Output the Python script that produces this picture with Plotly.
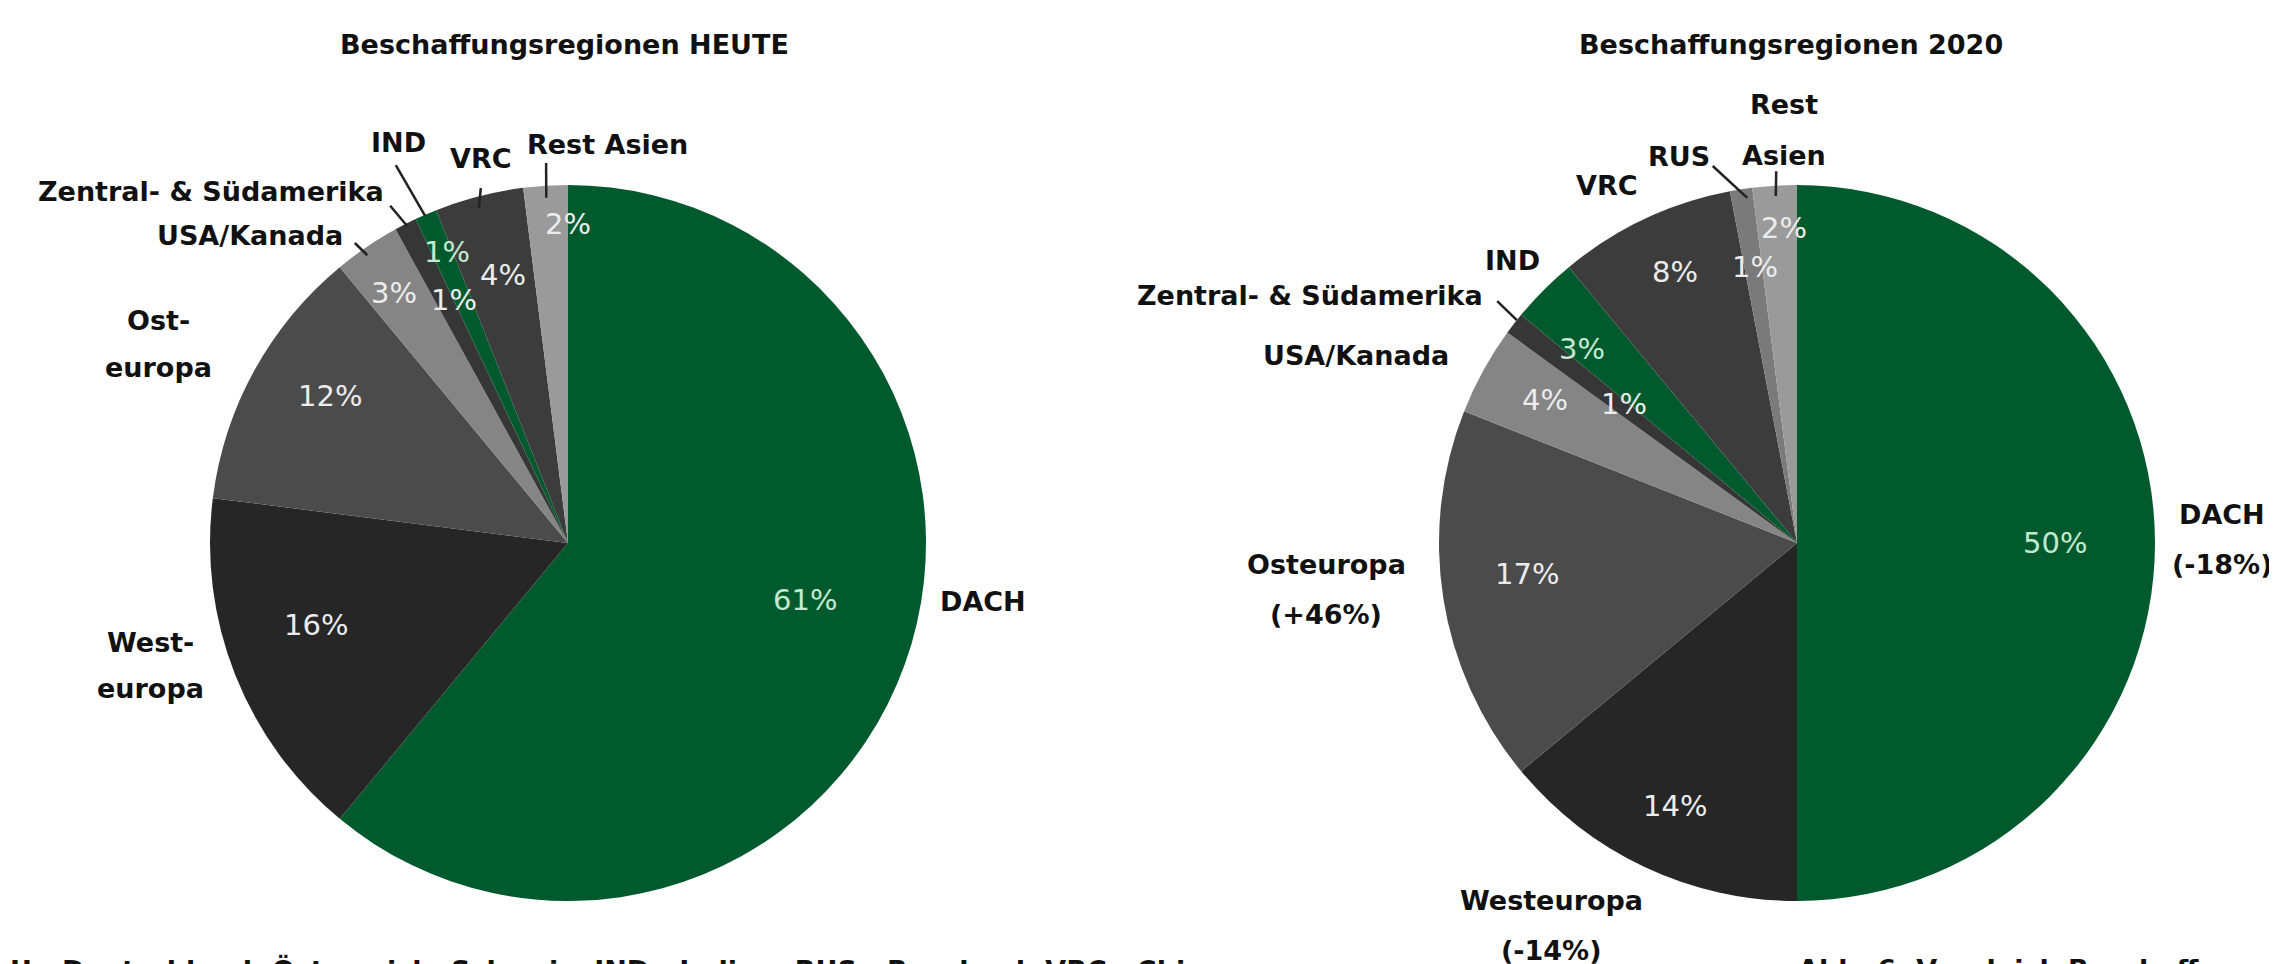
import math
import plotly.graph_objects as go

W, H = 2277, 964

# ---------------- data ----------------
titles = ["Beschaffungsregionen HEUTE", "Beschaffungsregionen 2020"]

labels_heute = ["DACH", "Westeuropa", "Osteuropa", "USA/Kanada",
                "Zentral- & Südamerika", "IND", "VRC", "Rest Asien"]
values_heute = [61, 16, 12, 3, 1, 1, 4, 2]

labels_2020 = ["DACH", "Westeuropa", "Osteuropa", "USA/Kanada",
               "Zentral- & Südamerika", "IND", "VRC", "RUS", "Rest Asien"]
values_2020 = [50, 14, 17, 4, 1, 3, 8, 1, 2]

changes_2020 = ["-18%", "-14%", "+46%", "", "", "", "", "", ""]

footnote = "U - Deutschland, Österreich, Schweiz; IND - Indien; RUS - Russland; VRC - China"
caption = "Abb. 6: Vergleich Beschaffungsregionen heute und 2020"

# ---------------- styles ----------------
COLORS = {
    "DACH": "#005a2d",
    "Westeuropa": "#262626",
    "Osteuropa": "#4b4b4b",
    "USA/Kanada": "#858585",
    "Zentral- & Südamerika": "#363636",
    "IND": "#005a2d",
    "VRC": "#3c3c3c",
    "RUS": "#7a7a7a",
    "Rest Asien": "#9a9a9a",
}
GREEN_TXT = "#c3ead0"
GREY_TXT = "#ececec"
BOLD = "DejaVu Sans, Verdana, sans-serif"
REG = "DejaVu Sans, Verdana, sans-serif"
LBL_SIZE = 27
PCT_SIZE = 29

R = 358
centers = [(560, 535), (1789, 535)]
title_x = [556, 1783]
TITLE_Y = 37

# percent label placement: angle offset from slice middle, radius factor
pct_off_heute = [(-6.3, .68), (3.5, .74), (2.9, .78), (-0.6, .85), (1.8, .75), (0.9, .88), (0.8, .77), (3.6, .89)]
pct_off_2020 = [(0, .72), (-0.3, .81), (2.5, .76), (0.8, .81), (0.9, .62), (-3, .81), (0.9, .83), (0.3, .78), (1.2, .88)]

# outside label placement: pixel offsets from pie centre, xanchor
out_heute = {
    "DACH": (370, 58, "left"),
    "Westeuropa": (-418, 122, "center"),
    "Osteuropa": (-410, -199, "center"),
    "USA/Kanada": (-223, -308, "right"),
    "Zentral- & Südamerika": (-182, -352, "right"),
    "IND": (-170, -400, "center"),
    "VRC": (-87, -385, "center"),
    "Rest Asien": (39, -398, "center"),
}
text_heute = {
    "DACH": ["DACH"],
    "Westeuropa": ["West-", "europa"],
    "Osteuropa": ["Ost-", "europa"],
    "USA/Kanada": ["USA/Kanada"],
    "Zentral- & Südamerika": ["Zentral- & Südamerika"],
    "IND": ["IND"],
    "VRC": ["VRC"],
    "Rest Asien": ["Rest Asien"],
}
out_2020 = {
    "DACH": (425, -4, "center"),
    "Westeuropa": (-246, 382, "center"),
    "Osteuropa": (-471, 46, "center"),
    "USA/Kanada": (-441, -188, "center"),
    "Zentral- & Südamerika": (-312, -248, "right"),
    "IND": (-285, -282, "center"),
    "VRC": (-190, -358, "center"),
    "RUS": (-118, -387, "center"),
    "Rest Asien": (-13, -413, "center"),
}
LINE_GAP = [46, 50]

# leader lines: (angle offset start, rf start, angle offset end, rf end)
lead_heute = {
    "USA/Kanada": (-0.7, .98, -1.2, 1.028),
    "Zentral- & Südamerika": (0.1, .993, -0.8, 1.065),
    "IND": (-0.2, .997, -1.1, 1.16),
    "VRC": (-0.5, .968, 0.6, 1.021),
    "Rest Asien": (0, .966, 0.3, 1.063),
}
lead_2020 = {
    "Zentral- & Südamerika": (0.7, 1.0, 1.1, 1.076),
    "RUS": (0.8, .974, -3.6, 1.079),
    "Rest Asien": (0.1, .971, 0.4, 1.04),
}


def px2paper(x, y):
    return x / W, 1 - y / H


def polar(c, theta, rf):
    cx, cy = c
    t = math.radians(theta)
    return px2paper(cx + rf * R * math.sin(t), cy - rf * R * math.cos(t))


def mids(values):
    tot = sum(values)
    out, acc = [], 0.0
    for v in values:
        out.append((acc + v / 2) / tot * 360)
        acc += v
    return out


fig = go.Figure()
annotations = []
shapes = []

charts = [
    (labels_heute, values_heute, pct_off_heute, out_heute, lead_heute, None),
    (labels_2020, values_2020, pct_off_2020, out_2020, lead_2020, changes_2020),
]

for k, (labs, vals, poff, outs, leads, chg) in enumerate(charts):
    c = centers[k]
    x0, y1 = px2paper(c[0] - R, c[1] - R)
    x1, y0 = px2paper(c[0] + R, c[1] + R)
    fig.add_trace(go.Pie(
        labels=labs, values=vals, sort=False, direction="clockwise", rotation=0,
        marker=dict(colors=[COLORS[l] for l in labs], line=dict(width=0)),
        textinfo="none", showlegend=False, hole=0,
        domain=dict(x=[x0, x1], y=[y0, y1]), name=titles[k],
    ))
    # title
    tx, ty = px2paper(title_x[k], TITLE_Y)
    annotations.append(dict(x=tx, y=ty, xref="paper", yref="paper", text=f"<b>{titles[k]}</b>",
                            xanchor="center", yanchor="middle", showarrow=False,
                            font=dict(family=BOLD, size=LBL_SIZE, color="#111")))
    m = mids(vals)
    for i, l in enumerate(labs):
        # percent label
        off, rf = poff[i]
        px, py = polar(c, m[i] + off, rf)
        col = GREEN_TXT if COLORS[l] == COLORS["DACH"] else GREY_TXT
        annotations.append(dict(x=px, y=py, xref="paper", yref="paper", text=f"{vals[i]}%",
                                xanchor="center", yanchor="middle", showarrow=False,
                                font=dict(family=REG, size=PCT_SIZE, color=col)))
        # outside label
        dx, dy, xa = outs[l]
        if k == 0:
            lines = text_heute[l]
        else:
            lines = [l] if not chg[i] else [l, f"({chg[i]})"]
            if l == "Rest Asien":
                lines = ["Rest", "Asien"]
        n = len(lines)
        for j, line in enumerate(lines):
            yy = c[1] + dy + (j - (n - 1) / 2) * LINE_GAP[k]
            ax, ay = px2paper(c[0] + dx, yy)
            annotations.append(dict(x=ax, y=ay, xref="paper", yref="paper", text=f"<b>{line}</b>",
                                    xanchor=xa, yanchor="middle", showarrow=False,
                                    font=dict(family=BOLD, size=LBL_SIZE, color="#111")))
        if l in leads:
            a1, r1, a2, r2 = leads[l]
            sx, sy = polar(c, m[i] + a1, r1)
            ex, ey = polar(c, m[i] + a2, r2)
            shapes.append(dict(type="line", xref="paper", yref="paper", x0=sx, y0=sy, x1=ex, y1=ey,
                               line=dict(color="#222", width=2.5)))

# footnote and caption (clipped at page edges as in source)
fx, fy = px2paper(0, 944)
annotations.append(dict(x=fx, y=fy, xref="paper", yref="paper", text=f"<b>{footnote}</b>",
                        xanchor="left", yanchor="top", showarrow=False,
                        font=dict(family=BOLD, size=LBL_SIZE, color="#111")))
cx_, cy_ = px2paper(1788, 944)
annotations.append(dict(x=cx_, y=cy_, xref="paper", yref="paper", text=f"<b>{caption}</b>",
                        xanchor="left", yanchor="top", showarrow=False,
                        font=dict(family=BOLD, size=LBL_SIZE, color="#111")))

fig.update_layout(
    width=W, height=H, margin=dict(l=0, r=0, t=0, b=0),
    paper_bgcolor="white", plot_bgcolor="white",
    annotations=annotations, shapes=shapes,
)
fig.write_html("out.html")
